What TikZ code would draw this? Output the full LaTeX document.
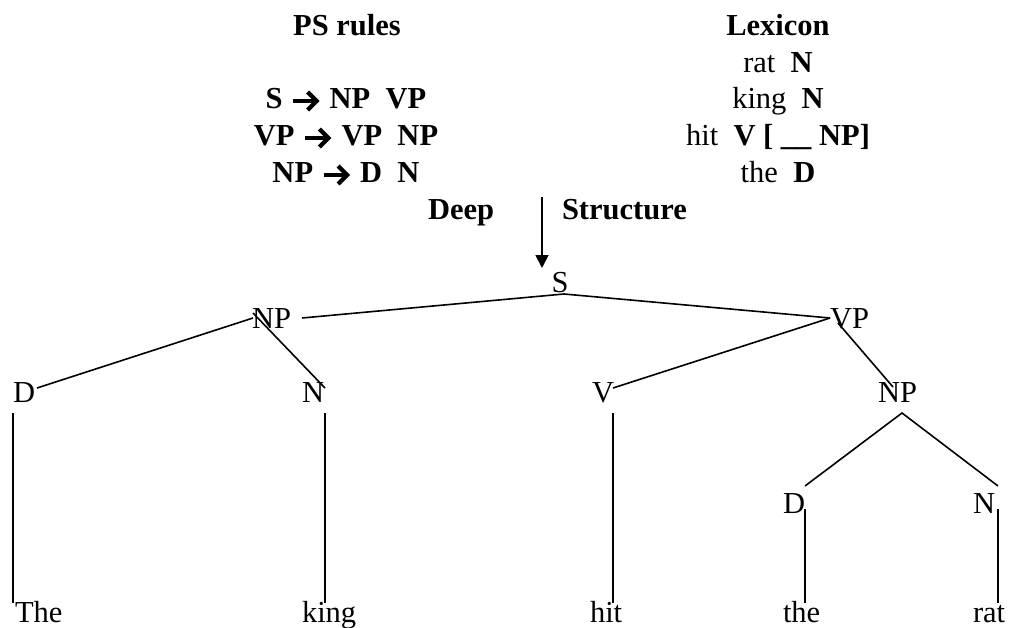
\documentclass[tikz,border=0pt]{standalone}
\usepackage{fontspec}
\setmainfont{Liberation Serif}
\usetikzlibrary{arrows.meta}
\newcommand{\psar}{\kern1pt\tikz[baseline=0pt,x=1pt,y=1pt]{\draw[line width=3.6pt] (0,7) -- (22,7); \draw[line width=4.2pt,miter limit=10] (14.5,16) -- (23.5,7) -- (14.5,-2); \path (27,0);}\kern2pt}
\begin{document}
\begin{tikzpicture}[x=1pt,y=-1pt,
  txt/.style={inner sep=0pt,outer sep=0pt,font=\fontsize{30.5}{36.5}\selectfont},
  hd/.style={txt,font=\fontsize{30.5}{36.5}\selectfont\bfseries,anchor=base},
  lab/.style={txt,anchor=base west},
  branch/.style={line width=1.6pt},
  stem/.style={line width=1.4pt}]
\useasboundingbox[fill=white] (0,0) rectangle (1009,627);
% PS rules
\node[hd] (ps) at (347,35) {PS rules};
\node[hd] (r1) at (346,108) {S \psar{} NP\ \ VP};
\node[hd] (r2) at (346,145) {VP \psar{} VP\ \ NP};
\node[hd] (r3) at (346,182) {NP \psar{} D\ \ N};
% Lexicon
\node[hd] (lx) at (778,35) {Lexicon};
\node[hd] (l1) at (778,72) {\mdseries rat\ \ \bfseries N};
\node[hd] (l2) at (778,108) {\mdseries king\ \ \bfseries N};
\node[hd] (l3) at (778,145) {\mdseries hit\ \ \bfseries V [ \_\_ NP]};
\node[hd] (l4) at (778,182) {\mdseries the\ \ \bfseries D};
% Deep Structure
\node[lab,font=\fontsize{30.5}{36.5}\selectfont\bfseries] (deep) at (428,219) {Deep};
\node[lab,font=\fontsize{30.5}{36.5}\selectfont\bfseries] (struct) at (562,219) {Structure};
\coordinate (atop) at (542,197);
\coordinate (atip) at (542,268);
\draw[line width=1.8pt,-{Triangle[length=13pt,width=13pt]}] (atop) -- (atip);
% tree labels
\node[txt,anchor=base] (S) at (560,292) {S};
\node[lab] (NPa) at (252,328) {NP};
\node[lab] (VP) at (830,328) {VP};
\node[lab] (Da) at (13,402) {D};
\node[lab] (Na) at (302,402) {N};
\node[lab] (V) at (592,402) {V};
\node[lab] (NPb) at (878,402) {NP};
\node[lab] (Db) at (783,513) {D};
\node[lab] (Nb) at (973,513) {N};
\node[lab] (w1) at (15,622) {The};
\node[lab] (w2) at (302,622) {king};
\node[lab] (w3) at (590,622) {hit};
\node[lab] (w4) at (783,622) {the};
\node[lab] (w5) at (973,622) {rat};
% connector end points
\coordinate (Sapex) at (564,294);
\coordinate (NPaR) at (302,318);
\coordinate (NPaL) at (253,318);
\coordinate (NPaN) at (253,313);
\coordinate (VPL) at (830,318);
\coordinate (VPR) at (838,323);
\coordinate (DaT) at (37,388);
\coordinate (NaT) at (325,388);
\coordinate (VT) at (613,388);
\coordinate (NPbT) at (893,387);
\coordinate (NPbB) at (902,413);
\coordinate (DbT) at (805,486);
\coordinate (NbT) at (998,486);
\coordinate (DaB) at (13,413);
\coordinate (NaB) at (325,413);
\coordinate (VB) at (613,413);
\coordinate (DbB) at (805,509);
\coordinate (NbB) at (998,509);
\coordinate (w1T) at (13,603);
\coordinate (w2T) at (325,603);
\coordinate (w3T) at (613,603);
\coordinate (w4T) at (805,603);
\coordinate (w5T) at (998,603);
% branches
\draw[branch] (NPaR) -- (Sapex) -- (VPL);
\draw[branch] (NPaL) -- (DaT);
\draw[branch] (NPaN) -- (NaT);
\draw[branch] (VPL) -- (VT);
\draw[branch] (VPR) -- (NPbT);
\draw[branch] (DbT) -- (NPbB) -- (NbT);
\draw[stem] (DaB) -- (w1T);
\draw[stem] (NaB) -- (w2T);
\draw[stem] (VB) -- (w3T);
\draw[stem] (DbB) -- (w4T);
\draw[stem] (NbB) -- (w5T);
\end{tikzpicture}
\end{document}
